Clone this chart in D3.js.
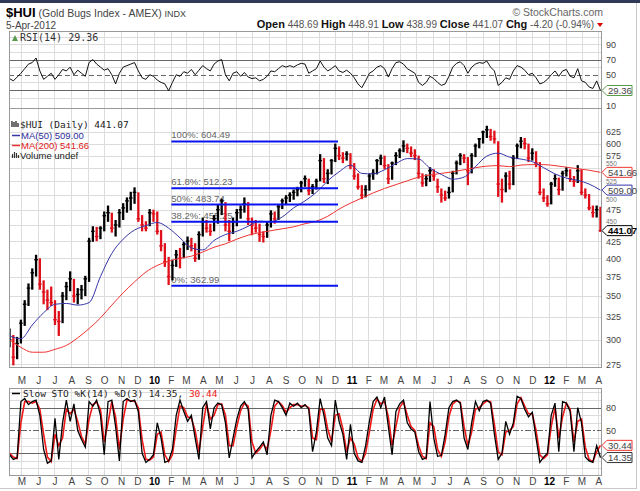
<!DOCTYPE html>
<html>
<head>
<meta charset="utf-8">
<script src="https://cdn.jsdelivr.net/npm/d3@7"></script>
<style>
body { margin: 0; background: #fff; }
svg { display: block; font-family: Arial, "Liberation Sans", sans-serif; }
</style>
</head>
<body>
<svg id="chart" width="640" height="491"></svg>
<script>
// weekly bars, first week ends 9-Apr-2009
var weekStart = new Date(2009, 3, 9);
var weekHigh = [312,305,303,322,345,366,386,405,400,370,
  358,362,345,332,355,368,382,372,360,364,
  376,430,448,447,448,472,482,470,458,476,
  486,496,506,514,505,466,456,476,475,472,
  442,422,402,398,412,415,424,432,430,422,
  440,462,458,452,466,484,494,488,458,462,
  476,482,496,488,462,458,452,440,456,474,
  472,484,494,500,505,510,515,526,536,530,
  520,530,578,570,548,568,600,594,582,584,
  580,560,540,518,518,540,548,568,577,575,
  558,563,582,590,607,600,594,588,575,540,
  538,552,548,530,512,508,515,545,565,580,
  578,572,580,600,612,628,639,632,628,605,
  530,542,545,576,600,614,612,600,590,584,
  562,512,500,524,538,532,545,552,548,535,
  556,548,512,502,482,482,480];
var weekLow = [292,274,280,296,315,338,358,375,358,340,
  333,338,316,304,318,345,356,342,340,346,
  350,368,424,425,428,440,455,438,432,446,
  458,470,474,485,455,440,440,448,455,435,
  410,388,364,370,388,386,400,412,410,395,
  398,432,438,433,440,452,466,440,425,436,
  448,460,470,450,434,438,424,423,430,446,
  452,458,476,484,488,492,498,505,515,500,
  502,510,525,522,520,538,562,566,560,565,
  548,528,510,493,496,508,528,538,556,548,
  520,528,556,570,582,580,572,566,530,515,
  516,524,526,504,487,490,494,505,538,556,
  560,518,540,572,590,600,612,606,600,497,
  487,505,510,518,568,590,588,562,565,552,
  500,488,480,484,515,500,508,534,524,515,
  522,500,494,474,462,462,439];
var weekClose = [300,282,296,318,340,360,380,398,365,355,
  345,342,322,320,350,362,372,350,352,358,
  372,425,440,432,445,465,470,445,450,470,
  478,490,495,505,460,450,445,470,468,440,
  418,395,375,390,405,400,420,425,418,400,
  435,455,445,440,460,475,490,450,440,455,
  470,475,485,460,450,445,435,432,450,468,
  460,480,490,495,500,505,510,522,530,508,
  515,525,565,530,540,565,590,575,570,578,
  555,535,515,500,510,535,540,565,570,555,
  530,560,575,585,595,590,580,575,540,522,
  530,545,535,515,500,495,505,540,560,575,
  570,545,575,595,610,625,630,615,610,520,
  510,535,520,570,595,605,600,570,580,560,
  505,495,485,520,530,510,540,545,530,525,
  545,505,500,478,470,475,441.07];

// moving averages, one reading every third week
var ma50 = [304,301,316,330,340,341,339,342,375,407,
  428,442,449,454,445,430,415,412,426,435,
  440,448,456,455,463,478,490,505,526,543,
  556,540,539,547,559,569,568,550,538,529,
  533,553,574,580,572,568,563,551,539,531,
  527,520,509];
var ma200 = [300,292,287,287,290,294,302,312,324,339,
  354,368,381,390,396,400,403,409,416,421,
  428,434,438,441,444,447,452,456,464,476,
  486,495,504,512,519,526,533,537,540,543,
  547,551,554,555,553,556,557,557,555,552,
  549,546,542];

// weekly RSI(14)
var rsiValues = [45,42,47,52,58,64,66,72,55,44,
  48,52,44,50,57,55,60,50,56,52,
  48,66,70,64,60,56,58,50,38,52,
  60,62,64,66,55,46,44,50,48,43,
  40,38,29,40,50,48,54,52,57,50,
  56,62,58,55,64,68,70,50,42,52,
  54,48,53,47,45,46,42,44,48,55,
  54,58,62,60,62,60,63,65,64,52,
  55,58,68,60,55,58,62,55,53,56,
  52,46,38,33,42,52,55,60,62,58,
  47,58,66,67,64,58,55,52,40,36,
  40,48,45,40,36,38,48,60,65,67,
  62,52,60,64,66,65,68,60,55,36,
  40,46,44,55,62,60,56,50,52,46,
  38,40,44,50,55,48,55,57,48,46,
  58,42,40,34,32,42,29.36];

// weekly slow stochastic %K(14) and %D(3)
var stoK = [18,12,14,88,92,84,88,90,70,25,
  7,10,66,12,60,90,62,85,50,38,
  28,88,82,90,70,18,88,90,55,10,
  88,92,88,90,75,20,8,12,18,60,
  40,8,10,25,70,90,75,62,70,40,
  12,80,88,52,80,86,84,60,14,40,
  65,82,88,78,14,22,28,35,18,70,
  90,88,80,70,86,82,86,80,84,78,
  22,48,92,70,40,30,90,62,45,12,
  58,20,10,8,30,62,88,94,80,94,
  55,18,75,85,90,60,52,48,22,12,
  14,88,40,16,17,45,80,88,90,86,
  40,25,60,88,76,88,90,86,45,12,
  20,62,45,60,95,92,78,68,74,40,
  8,15,20,70,86,22,88,86,75,22,
  80,60,15,10,8,30,14.35];
var stoD = [20,15,13,60,88,88,86,88,78,45,
  15,9,45,30,40,78,72,78,62,42,
  32,65,84,87,78,35,60,88,68,25,
  65,90,89,89,80,38,12,11,15,45,
  48,18,9,18,52,82,80,68,66,50,
  22,55,85,65,70,84,85,70,30,30,
  55,76,86,82,35,20,25,32,25,50,
  82,88,83,74,80,84,84,82,83,80,
  40,38,78,78,52,35,70,72,52,22,
  40,32,14,9,20,48,78,91,85,88,
  68,30,55,80,88,70,55,50,30,16,
  13,60,55,25,16,35,68,85,89,87,
  55,30,48,78,80,85,89,88,58,22,
  18,48,50,55,85,93,82,72,72,50,
  18,13,18,55,80,40,68,86,78,35,
  62,65,28,12,9,22,30.44];

// fibonacci retracement drawn on the chart
var fibNames = ["100%", "61.8%", "50%", "38.2%", "0%"];
var fibLevels = [604.49, 512.23, 483.74, 455.25, 362.99];
var fibFrom = new Date(2010, 1, 2);
var fibTo = new Date(2010, 11, 7);

var priceTicks = [275, 300, 325, 350, 375, 400, 425, 450, 475, 500, 525, 550, 575, 600, 625];
var rsiTicks = [90, 70, 50, 10];
var stoTicks = [80, 50];
var quoteNames = ["Open", "High", "Low", "Close", "Chg"];
var quoteValues = ["448.69", "448.91", "438.99", "441.07", "-4.20 (-0.94%)"];

var plotL = 9, plotR = 601;
var rsiTop = 31, rsiBot = 108;
var mainTop = 108, mainBot = 367;
var stoTop = 388, stoBot = 475;
var gridColor = "#dcdcdc";
var mono = "'DejaVu Sans Mono', monospace";

var svg = d3.select("#chart");
var x, yPrice, yRsi, ySto, months, bars;

var createScales = function () {
    x = d3.scaleTime()
        .domain([new Date(2009, 3, 8), new Date(2012, 3, 6)])
        .range([plotL, plotR]);
    yPrice = d3.scaleLog()
        .domain([272.4, 680.4])
        .range([mainBot, mainTop]);
    yRsi = d3.scaleLinear()
        .domain([6.4, 107.4])
        .range([rsiBot, rsiTop]);
    ySto = d3.scaleLinear()
        .domain([-8.6, 105.9])
        .range([stoBot, stoTop]);
    months = d3.timeMonth.range(new Date(2009, 4, 1), new Date(2012, 4, 1));
    bars = weekClose.map(function (c, i) {
        return {
            date: d3.timeDay.offset(weekStart, 7 * i),
            high: weekHigh[i],
            low: weekLow[i],
            close: c,
            down: i > 0 && c < weekClose[i - 1]
        };
    });
};

var createFrame = function () {
    svg.append('rect').attr('width', 640).attr('height', 491).attr('fill', '#fff');
    svg.append('rect').attr('width', 640).attr('height', 3).attr('fill', '#2f3a56');
    svg.append('line').attr('x1', 636.5).attr('x2', 636.5).attr('y1', 3).attr('y2', 488)
        .attr('stroke', '#c8c8c8');
    svg.append('line').attr('x1', 0).attr('x2', 637).attr('y1', 488.5).attr('y2', 488.5)
        .attr('stroke', '#c8c8c8');
};

var createHeader = function () {
    var t = svg.append('text').attr('x', 6).attr('y', 17);
    t.append('tspan').text('$HUI').attr('font-size', 13).attr('font-weight', 'bold').attr('fill', '#000');
    t.append('tspan').text(' (Gold Bugs Index - AMEX) ').attr('font-size', 10.5).attr('fill', '#444');
    t.append('tspan').text('INDX').attr('font-size', 9).attr('fill', '#444');
    svg.append('text').attr('x', 6).attr('y', 29).attr('font-size', 10).attr('fill', '#444')
        .text('5-Apr-2012');
    svg.append('text').attr('x', 603).attr('y', 16).attr('text-anchor', 'end')
        .attr('font-size', 10.5).attr('fill', '#666').text('\u00a9 StockCharts.com');
    var q = svg.append('text').attr('x', 594).attr('y', 28).attr('text-anchor', 'end');
    quoteNames.forEach(function (n, i) {
        q.append('tspan').text(n).attr('font-size', 11).attr('font-weight', 'bold').attr('fill', '#111');
        q.append('tspan').text(' ' + quoteValues[i] + (i < quoteNames.length - 1 ? '  ' : ''))
            .attr('font-size', 10).attr('fill', '#555');
    });
    svg.append('path').attr('d', 'M597,23 L603,23 L600,27 Z').attr('fill', '#d00');
};

var createGrid = function (top, bottom, levels, yScale) {
    var g = svg.append('g');
    g.selectAll('line.v').data(months).enter().append('line')
        .attr('x1', function (d) { return Math.round(x(d)) + 0.5; })
        .attr('x2', function (d) { return Math.round(x(d)) + 0.5; })
        .attr('y1', top).attr('y2', bottom)
        .attr('stroke', gridColor);
    g.selectAll('line.h').data(levels).enter().append('line')
        .attr('x1', plotL).attr('x2', plotR)
        .attr('y1', function (d) { return Math.round(yScale(d)) + 0.5; })
        .attr('y2', function (d) { return Math.round(yScale(d)) + 0.5; })
        .attr('stroke', gridColor);
};

var createPanelBorder = function (top, bottom) {
    svg.append('rect').attr('x', plotL + 0.5).attr('y', top + 0.5)
        .attr('width', plotR - plotL).attr('height', bottom - top)
        .attr('fill', 'none').attr('stroke', '#9a9a9a');
};

var refLine = function (yScale, v, dash) {
    svg.append('line').attr('x1', plotL).attr('x2', plotR)
        .attr('y1', Math.round(yScale(v)) + 0.5).attr('y2', Math.round(yScale(v)) + 0.5)
        .attr('stroke', '#666').attr('stroke-dasharray', dash);
};

var drawTag = function (y, label, color, bold) {
    var g = svg.append('g').attr('transform', 'translate(' + (plotR + 1) + ',' + y + ')');
    g.append('path').attr('d', 'M0,0 L5,-5 L30,-5 L30,5 L5,5 Z')
        .attr('fill', '#fff').attr('stroke', color);
    g.append('text').attr('x', 6).attr('y', 3.4).attr('font-size', 9.5)
        .attr('font-weight', bold ? 'bold' : null)
        .attr('fill', bold ? '#000' : '#444').text(label);
};

// right hand labels; a label sitting under a value tag is nudged out of its way
var rightAxis = function (yScale, ticks, fmt, tagYs) {
    var g = svg.append('g').attr('transform', 'translate(' + plotR + ',0)')
        .call(d3.axisRight(yScale).tickValues(ticks).tickSize(0).tickPadding(5).tickFormat(fmt));
    g.select('.domain').remove();
    g.selectAll('text').attr('font-size', 9).attr('fill', '#444').attr('font-family', 'Arial');
    g.selectAll('.tick').each(function (d) {
        var ty = yScale(d);
        var hit = (tagYs || []).filter(function (t) { return Math.abs(t - ty) < 9; });
        if (hit.length) {
            var shift = ty < hit[0] ? hit[0] - 9 - ty : hit[0] + 9 - ty;
            d3.select(this).select('text').attr('y', shift).attr('font-size', 6.5).attr('fill', '#777');
        }
    });
};

var monthAxis = function (yPos) {
    var g = svg.append('g').attr('transform', 'translate(0,' + yPos + ')')
        .call(d3.axisBottom(x).tickValues(months).tickSize(0).tickPadding(0)
            .tickFormat(function (d) {
                return d.getMonth() === 0 ? d3.timeFormat('%y')(d) : d3.timeFormat('%b')(d).charAt(0);
            }));
    g.select('.domain').remove();
    g.selectAll('text').attr('font-size', 10).attr('font-family', 'Arial')
        .attr('fill', function (d) { return d.getMonth() === 0 ? '#000' : '#444'; })
        .attr('font-weight', function (d) { return d.getMonth() === 0 ? 'bold' : null; });
};

var clip = function (id, top, bottom) {
    svg.append('clipPath').attr('id', id).append('rect')
        .attr('x', plotL).attr('y', top).attr('width', plotR - plotL).attr('height', bottom - top);
};

var createRsi = function () {
    createGrid(rsiTop, rsiBot, [20, 40, 60, 80, 90, 100], yRsi);
    refLine(yRsi, 70, null);
    refLine(yRsi, 30, null);
    refLine(yRsi, 50, '5,3');
    clip('clipRsi', rsiTop, rsiBot);
    svg.append('path').datum(rsiValues)
        .attr('clip-path', 'url(#clipRsi)')
        .attr('fill', 'none').attr('stroke', '#111').attr('stroke-width', 1)
        .attr('d', d3.line()
            .x(function (d, i) { return x(bars[i].date); })
            .y(function (d) { return yRsi(d); }));
    createPanelBorder(rsiTop, rsiBot);
    svg.append('path').attr('d', 'M12,41 L15,35 L18,41 Z').attr('fill', '#5a9a4a');
    svg.append('text').attr('x', 20).attr('y', 41).attr('font-family', mono)
        .attr('font-size', 10).attr('fill', '#333').text('RSI(14) ' + rsiValues[rsiValues.length - 1]);
    var last = yRsi(rsiValues[rsiValues.length - 1]);
    rightAxis(yRsi, rsiTicks, d3.format('d'), [last]);
    drawTag(last, '29.36', '#5a9a4a', false);
};

var createPrice = function () {
    createGrid(mainTop, mainBot, priceTicks, yPrice);
    clip('clipMain', mainTop, mainBot);
    var g = svg.append('g').attr('clip-path', 'url(#clipMain)');

    // fib labels sit under the bars
    g.selectAll('text.fib').data(fibLevels).enter().append('text')
        .attr('x', x(fibFrom))
        .attr('y', function (d) { return yPrice(d) - 3; })
        .attr('font-size', 9.5).attr('fill', '#666')
        .text(function (d, i) { return fibNames[i] + ': ' + d3.format('.2f')(d); });

    g.selectAll('line.bar').data(bars).enter().append('line')
        .attr('x1', function (d) { return x(d.date); })
        .attr('x2', function (d) { return x(d.date); })
        .attr('y1', function (d) { return yPrice(d.high); })
        .attr('y2', function (d) { return yPrice(d.low); })
        .attr('stroke', function (d) { return d.down ? '#e0101a' : '#000'; })
        .attr('stroke-width', 2.3);
    g.selectAll('line.tick').data(bars).enter().append('line')
        .attr('x1', function (d) { return x(d.date) - 1.8; })
        .attr('x2', function (d) { return x(d.date) + 1.8; })
        .attr('y1', function (d) { return yPrice(d.close); })
        .attr('y2', function (d) { return yPrice(d.close); })
        .attr('stroke', function (d) { return d.down ? '#e0101a' : '#000'; })
        .attr('stroke-width', 1.4);

    var maLine = d3.line()
        .x(function (d, i) { return x(bars[i * 3].date); })
        .y(function (d) { return yPrice(d); })
        .curve(d3.curveMonotoneX);
    g.append('path').datum(ma200).attr('fill', 'none').attr('stroke', '#f03232')
        .attr('stroke-width', 1).attr('d', maLine);
    g.append('path').datum(ma50).attr('fill', 'none').attr('stroke', '#3535a8')
        .attr('stroke-width', 1).attr('d', maLine);

    g.selectAll('line.fib').data(fibLevels).enter().append('line')
        .attr('x1', x(fibFrom)).attr('x2', x(fibTo))
        .attr('y1', function (d) { return yPrice(d); })
        .attr('y2', function (d) { return yPrice(d); })
        .attr('stroke', '#0a14f0').attr('stroke-width', 2);

    createPanelBorder(mainTop, mainBot);

    // legend
    svg.append('path').attr('d', 'M12,121 v6 M14,122 v5 M16,121 v6 M18,123 v4')
        .attr('stroke', '#222').attr('stroke-width', 1.3);
    svg.append('text').attr('x', 20).attr('y', 128).attr('font-family', mono).attr('font-size', 9.5)
        .attr('fill', '#222').text('$HUI (Daily) 441.07');
    svg.append('line').attr('x1', 12).attr('x2', 20).attr('y1', 135.5).attr('y2', 135.5)
        .attr('stroke', '#3535a8').attr('stroke-width', 1.5);
    svg.append('text').attr('x', 21).attr('y', 139).attr('font-size', 9.5).attr('fill', '#2c2c9a')
        .text('MA(50) 509.00');
    svg.append('line').attr('x1', 12).attr('x2', 20).attr('y1', 145.5).attr('y2', 145.5)
        .attr('stroke', '#f03232').attr('stroke-width', 1.5);
    svg.append('text').attr('x', 21).attr('y', 149).attr('font-size', 9.5).attr('fill', '#e02020')
        .text('MA(200) 541.66');
    svg.append('path').attr('d', 'M12.5,158 v-4 M14.5,158 v-6 M16.5,158 v-5 M18.5,158 v-3')
        .attr('stroke', '#333').attr('stroke-width', 1.2);
    svg.append('text').attr('x', 20).attr('y', 158.5).attr('font-size', 9.5).attr('fill', '#222')
        .text('Volume undef');

    var tags = [yPrice(ma200[ma200.length - 1]), yPrice(ma50[ma50.length - 1]),
        yPrice(weekClose[weekClose.length - 1])];
    rightAxis(yPrice, priceTicks, d3.format('d'), tags);
    drawTag(tags[0], '541.66', '#f03232', false);
    drawTag(tags[1], '509.00', '#3535a8', false);
    drawTag(tags[2], '441.07', '#000', true);
};

var createSto = function () {
    createGrid(stoTop, stoBot, [0, 10, 30, 40, 60, 70, 90, 100], ySto);
    refLine(ySto, 80, null);
    refLine(ySto, 20, null);
    refLine(ySto, 50, '6,2,2,2');
    clip('clipSto', stoTop, stoBot);
    var line = d3.line()
        .x(function (d, i) { return x(bars[i].date); })
        .y(function (d) { return ySto(d); });
    svg.append('path').datum(stoD).attr('clip-path', 'url(#clipSto)')
        .attr('fill', 'none').attr('stroke', '#f01818').attr('stroke-width', 1.6).attr('d', line);
    svg.append('path').datum(stoK).attr('clip-path', 'url(#clipSto)')
        .attr('fill', 'none').attr('stroke', '#000').attr('stroke-width', 1.3).attr('d', line);
    createPanelBorder(stoTop, stoBot);
    svg.append('line').attr('x1', 12).attr('x2', 20).attr('y1', 393.5).attr('y2', 393.5)
        .attr('stroke', '#000').attr('stroke-width', 1.5);
    var t = svg.append('text').attr('x', 23).attr('y', 397).attr('font-family', mono).attr('font-size', 9.5);
    t.append('tspan').attr('fill', '#222').text('Slow STO %K(14) %D(3) 14.35, ');
    t.append('tspan').attr('fill', '#f01818').text('30.44');
    var tags = [ySto(stoD[stoD.length - 1]), ySto(stoK[stoK.length - 1])];
    rightAxis(ySto, stoTicks, d3.format('d'), tags);
    drawTag(tags[0], '30.44', '#f03232', false);
    drawTag(tags[1], '14.35', '#333', false);
};

createScales();
createFrame();
createHeader();
createRsi();
createPrice();
monthAxis(377);
createSto();
monthAxis(478);
</script>
</body>
</html>
